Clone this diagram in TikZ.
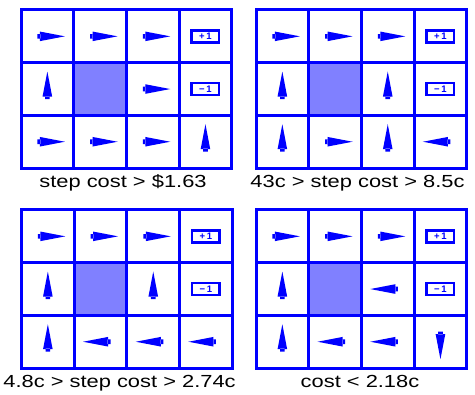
\documentclass[tikz,border=0pt]{standalone}
\usepackage{fontspec}
\setmainfont{Liberation Sans}
\usepackage{tikz}
\usetikzlibrary{positioning}
\definecolor{gridblue}{RGB}{0,0,255}
\definecolor{wallblue}{RGB}{128,128,255}
\tikzstyle{gridline} = [line width=3pt, draw=gridblue, line cap=rect]
\tikzstyle{wall} = [fill=wallblue]
\tikzstyle{polarrow} = [fill=gridblue]
\tikzstyle{termbox} = [rectangle, 
draw=gridblue, 
line width=2.5pt, 
fill=white, 
minimum width=27.5pt, 
minimum height=12pt, 
inner sep=0pt, 
text=gridblue, 
font=\fontsize{9.5}{9.5}\selectfont\bfseries]
\tikzstyle{caption} = [anchor=base, font=\fontsize{17.5}{20}\selectfont, xscale=1.25]
\newcommand{\cs}{52.7}
% arrow in cell (column, row), pointing at angle
\newcommand{\polarrow}[3]{\fill[polarrow, shift={({(#1-0.5)*\cs},{(0.5-#2)*\cs})}, rotate=#3]
  (-10,-2.3) rectangle (-7,2.3) (-7.5,-4.8) -- (17.5,0) -- (-7.5,4.8) -- cycle;}
% empty grid world with wall and terminal boxes, top left corner at (#1,#2)
\newcommand{\mdpgrid}[3]{%
  \fill[wall] ({#1+\cs},{#2-2*\cs}) rectangle ({#1+2*\cs},{#2-\cs});
  \foreach \i in {0,...,4} \draw[gridline] ({#1+\i*\cs},#2) -- ({#1+\i*\cs},{#2-3*\cs});
  \foreach \j in {0,...,3} \draw[gridline] (#1,{#2-\j*\cs}) -- ({#1+4*\cs},{#2-\j*\cs});
  \node[termbox] (#3plus) at ({#1+3.5*\cs},{#2-0.5*\cs}) {+\,1};
  \node[termbox] (#3minus) at ({#1+3.5*\cs},{#2-1.5*\cs}) {−\,1};}

\begin{document}
\begin{tikzpicture}[x=1pt, y=1pt]
    \useasboundingbox (0,0) rectangle (475,395);

    % Rejillas
    \mdpgrid{21}{385}{ga}
    \mdpgrid{256}{385}{gb}
    \mdpgrid{21.5}{185}{gc}
    \mdpgrid{256}{185}{gd}

    % Politicas
    \begin{scope}[shift={(21,385)}]
        \polarrow{1}{1}{0} \polarrow{2}{1}{0} \polarrow{3}{1}{0}
        \polarrow{1}{2}{90} \polarrow{3}{2}{0}
        \polarrow{1}{3}{0} \polarrow{2}{3}{0} \polarrow{3}{3}{0} \polarrow{4}{3}{90}
    \end{scope}
    \begin{scope}[shift={(256,385)}]
        \polarrow{1}{1}{0} \polarrow{2}{1}{0} \polarrow{3}{1}{0}
        \polarrow{1}{2}{90} \polarrow{3}{2}{90}
        \polarrow{1}{3}{90} \polarrow{2}{3}{0} \polarrow{3}{3}{90} \polarrow{4}{3}{180}
    \end{scope}
    \begin{scope}[shift={(21.5,185)}]
        \polarrow{1}{1}{0} \polarrow{2}{1}{0} \polarrow{3}{1}{0}
        \polarrow{1}{2}{90} \polarrow{3}{2}{90}
        \polarrow{1}{3}{90} \polarrow{2}{3}{180} \polarrow{3}{3}{180} \polarrow{4}{3}{180}
    \end{scope}
    \begin{scope}[shift={(256,185)}]
        \polarrow{1}{1}{0} \polarrow{2}{1}{0} \polarrow{3}{1}{0}
        \polarrow{1}{2}{90} \polarrow{3}{2}{180}
        \polarrow{1}{3}{90} \polarrow{2}{3}{180} \polarrow{3}{3}{180} \polarrow{4}{3}{270}
    \end{scope}

    % Leyendas
    \node[caption] (capa) at (123,207) {step cost > \$1.63};
    \node[caption] (capb) at (357.5,207) {43c > step cost > 8.5c};
    \node[caption] (capc) at (119.5,7) {4.8c > step cost > 2.74c};
    \node[caption] (capd) at (360,7) {cost < 2.18c};

\end{tikzpicture}
\end{document}
